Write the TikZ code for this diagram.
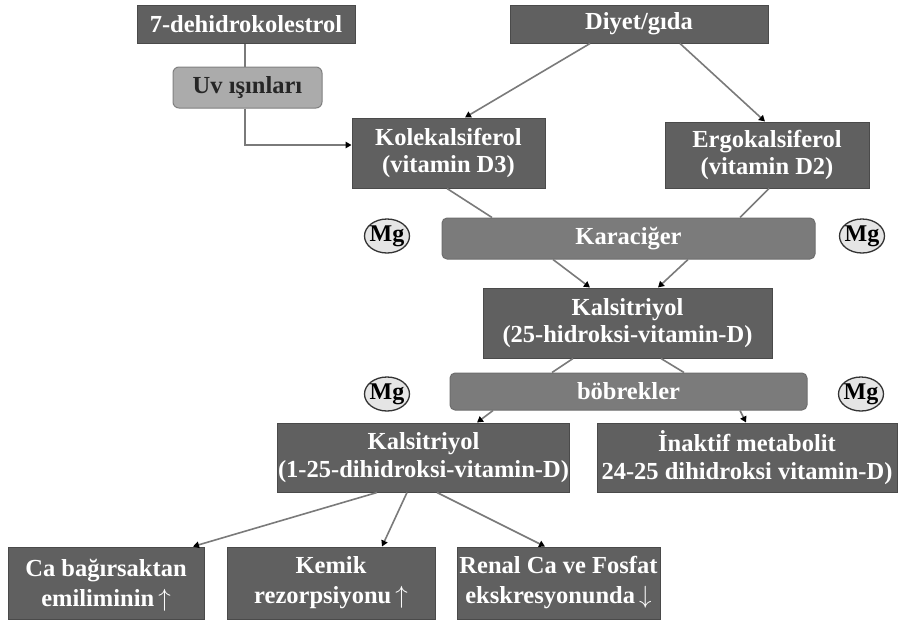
\documentclass[tikz,border=0pt]{standalone}
\usepackage{fontspec}
\setmainfont{Liberation Serif}
\usetikzlibrary{arrows.meta,calc}
\definecolor{boxdark}{HTML}{606060}
\definecolor{boxedge}{HTML}{4A4A4A}
\definecolor{boxmid}{HTML}{7B7B7B}
\definecolor{boxlight}{HTML}{ABABAB}
\definecolor{linegray}{HTML}{7A7A7A}
\tikzset{
  txt/.style={align=center, font=\bfseries\fontsize{24.5}{27.5}\selectfont, inner sep=1pt},
  dbox/.style={txt, draw=boxedge, line width=1pt, fill=boxdark, text=white},
  bbox/.style={dbox, font=\bfseries\fontsize{24.5}{30}\selectfont},
  rbox/.style={txt, draw=boxedge!80, line width=1pt, fill=boxmid, text=white, rounded corners=5pt},
  uvbox/.style={txt, draw=boxedge!70, line width=1pt, fill=boxlight, text=black!85, rounded corners=6pt},
  mgell/.style={draw=black!80, line width=1.3pt, fill=black!10},
  mg/.style={text=black, inner sep=0pt, font=\bfseries\fontsize{24}{26}\selectfont},
  conn/.style={draw=linegray, line width=1.6pt},
  arr/.style={conn, -{Triangle[black,length=6pt,width=6.5pt]}},
}
\newcommand{\mgnode}[2]{%
  \path[mgell] (#2) ellipse [x radius=22.5pt, y radius=17pt];
  \node[mg] (#1) at (#2) {Mg};}
\newcommand{\upar}{\,\raisebox{0pt}[0.62em][0pt]{$\uparrow$}}
\newcommand{\dnar}{\,\raisebox{0pt}[0.62em][0pt]{$\downarrow$}}
\begin{document}
\begin{tikzpicture}[x=1pt,y=-1pt]
\useasboundingbox (0,0) rectangle (900,627);
\fill[white] (0,0) rectangle (900,627);
% nodes
\node[dbox, minimum width=218pt, minimum height=38pt] (dehid) at (246,24) {7-dehidrokolestrol};
\node[dbox, minimum width=258pt, minimum height=38pt] (diyet) at (639,24) {Diyet/gıda};
\node[uvbox, minimum width=149pt, minimum height=41pt] (uv) at (247.5,87.5) {Uv ışınları};
\node[dbox, minimum width=193pt, minimum height=70pt] (kole) at (448.5,153) {Kolekalsiferol\\(vitamin D3)};
\node[dbox, minimum width=204pt, minimum height=66pt] (ergo) at (767,155) {Ergokalsiferol\\(vitamin D2)};
\mgnode{mg1}{387,236}
\mgnode{mg2}{862,236}
\node[rbox, minimum width=373pt, minimum height=41pt] (kara) at (628.5,238.5) {Karaciğer};
\node[dbox, minimum width=289pt, minimum height=70pt] (kal25) at (627.5,323) {Kalsitriyol\\(25-hidroksi-vitamin-D)};
\mgnode{mg3}{387,394}
\mgnode{mg4}{861,394}
\node[rbox, minimum width=357pt, minimum height=37pt] (bob) at (628.5,391.5) {böbrekler};
\node[dbox, minimum width=287pt, minimum height=69pt] (kal125) at (423.5,457.5) {Kalsitriyol\\(1-25-dihidroksi-vitamin-D)};
\node[dbox, minimum width=300pt, minimum height=69pt] (inak) at (747,457.5) {İnaktif metabolit\\24-25 dihidroksi vitamin-D)};
\node[bbox, minimum width=196pt, minimum height=72pt] (ca) at (106,583) {Ca bağırsaktan\\emiliminin\upar};
\node[bbox, minimum width=208pt, minimum height=72pt] (kemik) at (331,583) {Kemik\\rezorpsiyonu\upar};
\node[bbox, minimum width=203pt, minimum height=72pt] (renal) at (558.5,583) {Renal Ca ve Fosfat\\ekskresyonunda\dnar};
% connectors
\draw[conn] ($(dehid.south)+(-1,0)$) -- ($(uv.north)+(-2.5,0)$);
\draw[arr] ($(uv.south)+(-2.5,0)$) |- ($(kole.west)+(0,-8)$);
\draw[arr] ($(diyet.south)+(-49,0)$) -- ($(kole.north)+(16.5,0)$);
\draw[arr] ($(diyet.south)+(41,0)$) -- ($(ergo.north)+(-2,0)$);
\draw[conn] ($(kole.south)+(-1.5,0)$) -- ($(kara.north)+(-136.5,0)$);
\draw[conn] ($(ergo.south)+(2,0)$) -- ($(kara.north)+(111.5,0)$);
\draw[arr] ($(kara.south)+(-75.5,0)$) -- ($(kal25.north)+(-37.5,0)$);
\draw[arr] ($(kara.south)+(59.5,0)$) -- ($(kal25.north)+(30.5,0)$);
\draw[conn] ($(kal25.south)+(-54.5,0)$) -- ($(bob.north)+(-76.5,0)$);
\draw[conn] ($(kal25.south)+(33.5,0)$) -- ($(bob.north)+(55.5,0)$);
\draw[arr] ($(bob.south)+(-135.5,0)$) -- ($(kal125.north)+(53.5,0)$);
\draw[arr] ($(bob.south)+(111.5,0)$) -- ($(inak.north)+(-1,0)$);
\draw[arr] ($(kal125.south)+(-46.5,0)$) -- ($(ca.north)+(87,0)$);
\draw[arr] ($(kal125.south)+(-16.5,0)$) -- ($(kemik.north)+(51,0)$);
\draw[arr] ($(kal125.south)+(13.5,0)$) -- ($(renal.north)+(-13.5,0)$);
\end{tikzpicture}
\end{document}
